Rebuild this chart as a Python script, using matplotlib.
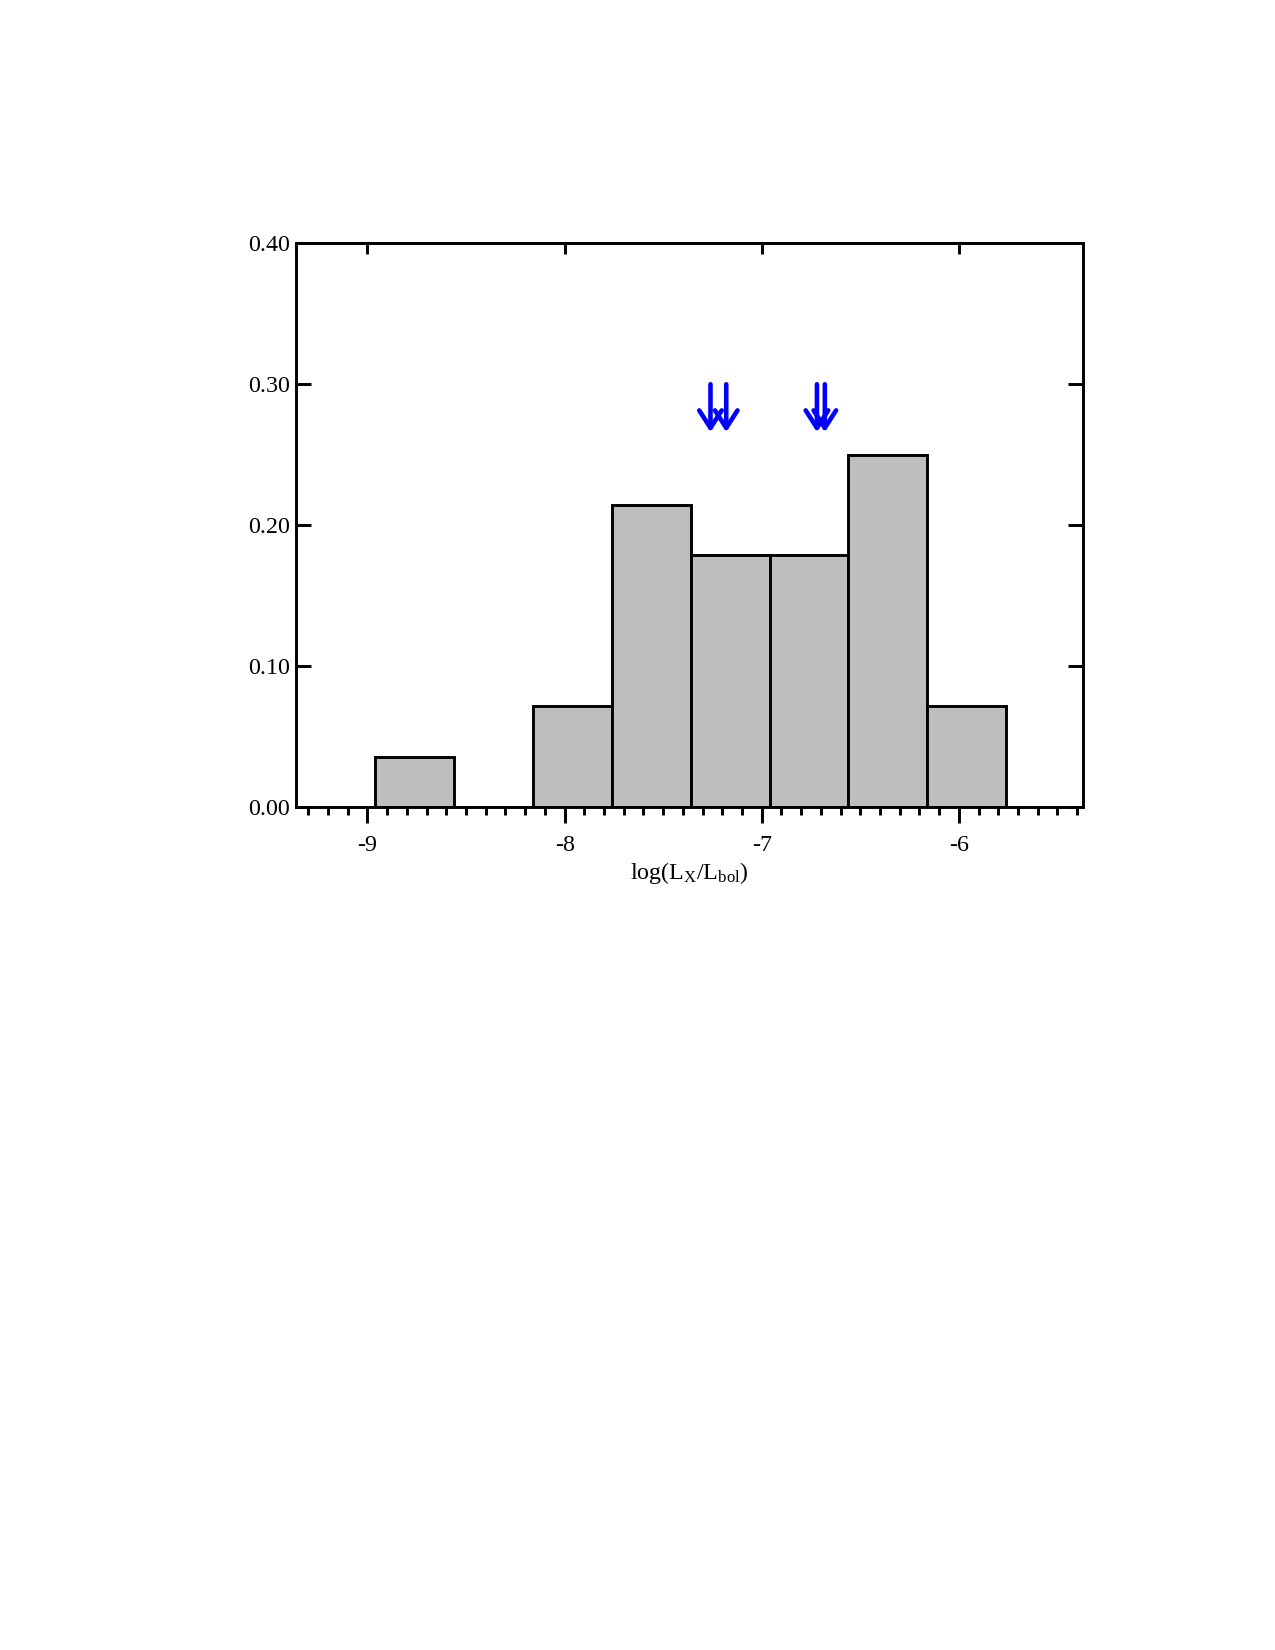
import matplotlib.pyplot as plt
from matplotlib.ticker import MultipleLocator, NullLocator

# histogram: 28 objects in bins of 0.4 dex
bin_edges = [-8.96, -8.56, -8.16, -7.76, -7.36, -6.96, -6.56, -6.16, -5.76]
counts = [1, 0, 2, 6, 5, 5, 7, 2]
n_total = 28
fractions = [c / n_total for c in counts]

# upper-limit arrows (log Lx/Lbol)
arrow_x = [-7.26, -7.18, -6.72, -6.68]
arrow_top = 0.30
arrow_tip = 0.266

yticks = [0.0, 0.1, 0.2, 0.3, 0.4]
ytick_labels = ['0.00', '0.10', '0.20', '0.30', '0.40']
xticks = [-9, -8, -7, -6]
xtick_labels = ['-9', '-8', '-7', '-6']


def make_fig(outfile):
    plt.rcParams['font.family'] = ['Liberation Serif', 'DejaVu Serif']
    plt.rcParams['mathtext.fontset'] = 'custom'
    plt.rcParams['mathtext.rm'] = 'Liberation Serif'
    plt.rcParams['mathtext.it'] = 'Liberation Serif'

    fig = plt.figure(figsize=(8.5, 11), dpi=150)
    ax = fig.add_axes([0.2325, 0.511, 0.617, 0.3415])

    widths = [bin_edges[i + 1] - bin_edges[i] for i in range(len(counts))]
    ax.bar(bin_edges[:-1], fractions, width=widths, align='edge',
           color='#bebebe', edgecolor='black', linewidth=1.4)

    for x in arrow_x:
        ax.annotate('', xy=(x, arrow_tip), xytext=(x, arrow_top),
                    arrowprops=dict(arrowstyle='->, head_length=0.42, head_width=0.27',
                                    color='#0000ff', lw=2.2, mutation_scale=20,
                                    shrinkA=0, shrinkB=0))

    ax.set_xlim(-9.36, -5.37)
    ax.set_ylim(0, 0.40)

    for s in ax.spines.values():
        s.set_linewidth(1.4)

    ax.set_xticks(xticks)
    ax.set_xticklabels(xtick_labels)
    ax.xaxis.set_minor_locator(MultipleLocator(0.1))
    ax.tick_params(axis='x', which='major', direction='out', length=7.5, width=1.4,
                   pad=6, labelsize=11.5, top=False)
    ax.tick_params(axis='x', which='minor', direction='out', length=4, width=1.4, top=False)

    ax.set_yticks(yticks)
    ax.set_yticklabels(ytick_labels)
    ax.yaxis.set_minor_locator(NullLocator())
    ax.tick_params(axis='y', which='major', direction='in', length=7, width=1.4,
                   pad=3, labelsize=11.5, right=True)

    top = ax.secondary_xaxis('top')
    top.set_xticks(xticks)
    top.xaxis.set_minor_locator(NullLocator())
    top.tick_params(direction='in', length=5.5, width=1.4, labeltop=False)
    top.spines['top'].set_linewidth(1.4)

    ax.set_xlabel(r'log(L$_\mathrm{X}$/L$_\mathrm{bol}$)', fontsize=11.5, labelpad=2)

    plt.savefig(outfile)


if __name__ == '__main__':
    make_fig('out.png')
